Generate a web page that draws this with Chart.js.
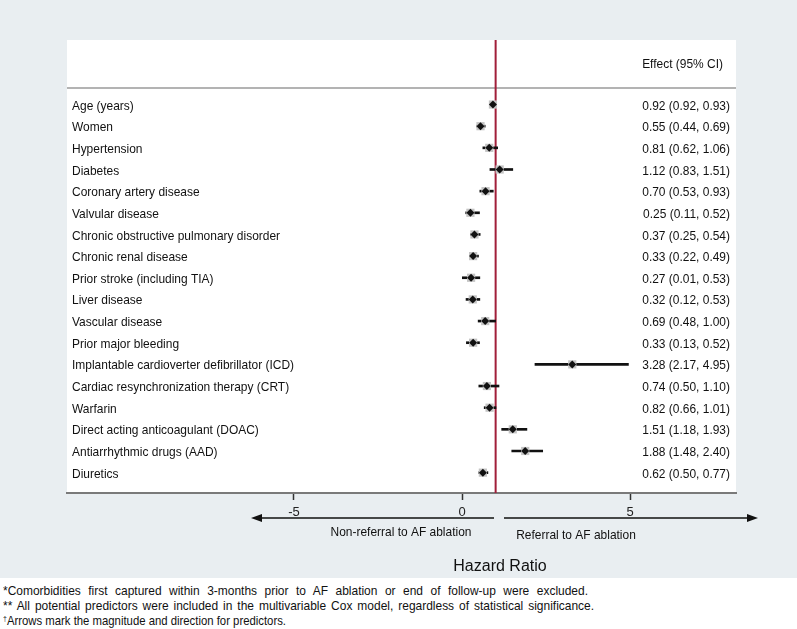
<!DOCTYPE html>
<html>
<head>
<meta charset="utf-8">
<script src="https://cdn.jsdelivr.net/npm/chart.js@4/dist/chart.umd.min.js"></script>
<style>
  html, body { margin: 0; padding: 0; background: #fff; }
  #wrap { position: relative; width: 797px; height: 629px; overflow: hidden; }
  #plot { position: absolute; left: 0; top: 0; background: #e9eef1; }
  .note {
    position: absolute; left: 3px;
    font: 13px "Liberation Sans", Arial, sans-serif;
    color: #111; white-space: nowrap; line-height: 14px;
    transform-origin: 0 50%;
  }
  .note sup { font-size: 8px; vertical-align: 4px; line-height: 0; }
</style>
</head>
<body>
<div id="wrap">
  <canvas id="plot" width="797" height="578"></canvas>
  <div class="note" data-w="585" style="top:584px">*Comorbidities first captured within 3-months prior to AF ablation or end of follow-up were excluded.</div>
  <div class="note" data-w="591" style="top:599px">** All potential predictors were included in the multivariable Cox model, regardless of statistical significance.</div>
  <div class="note" data-w="283" style="top:614px"><sup>&dagger;</sup>Arrows mark the magnitude and direction for predictors.</div>
</div>

<script>
/* ---- data ---- */
const predictors = [
  "Age (years)", "Women", "Hypertension", "Diabetes", "Coronary artery disease",
  "Valvular disease", "Chronic obstructive pulmonary disorder", "Chronic renal disease",
  "Prior stroke (including TIA)", "Liver disease", "Vascular disease", "Prior major bleeding",
  "Implantable cardioverter defibrillator (ICD)", "Cardiac resynchronization therapy (CRT)",
  "Warfarin", "Direct acting anticoagulant (DOAC)", "Antiarrhythmic drugs (AAD)", "Diuretics"
];
const hazardRatio = [0.92, 0.55, 0.81, 1.12, 0.70, 0.25, 0.37, 0.33, 0.27, 0.32, 0.69, 0.33, 3.28, 0.74, 0.82, 1.51, 1.88, 0.62];
const ciLow       = [0.92, 0.44, 0.62, 0.83, 0.53, 0.11, 0.25, 0.22, 0.01, 0.12, 0.48, 0.13, 2.17, 0.50, 0.66, 1.18, 1.48, 0.50];
const ciHigh      = [0.93, 0.69, 1.06, 1.51, 0.93, 0.52, 0.54, 0.49, 0.53, 0.53, 1.00, 0.52, 4.95, 1.10, 1.01, 1.93, 2.40, 0.77];
const xTicks = [-5, 0, 5];
const refValue = 1;

/* ---- layout constants ---- */
const X_MIN = -11.75, X_MAX = 8.15;
const Y_MIN = -2.98, Y_MAX = 17.94;
const FONT = '"Liberation Sans", Arial, sans-serif';
const RED = "#a11f3a";
const SQUEEZE = 0.92;   // the original type is a bit condensed

const fmt = (v) => v.toFixed(2);

function text(ctx, str, x, y, align) {
  ctx.save();
  ctx.translate(x, y);
  ctx.scale(SQUEEZE, 1);
  ctx.textAlign = align;
  ctx.fillText(str, 0, 0);
  ctx.restore();
}

function arrow(ctx, x1, x2, y) {
  const dir = Math.sign(x2 - x1);
  ctx.beginPath();
  ctx.moveTo(x1, y);
  ctx.lineTo(x2 - dir * 8, y);
  ctx.stroke();
  ctx.beginPath();
  ctx.moveTo(x2, y);
  ctx.lineTo(x2 - dir * 11, y - 4);
  ctx.lineTo(x2 - dir * 11, y + 4);
  ctx.closePath();
  ctx.fill();
}

const forestDecor = {
  id: "forestDecor",
  beforeDraw(chart) {
    const { ctx, chartArea: a } = chart;
    ctx.save();
    ctx.fillStyle = "#fff";
    ctx.fillRect(a.left, a.top, a.right - a.left, a.bottom - a.top);
    // header rule
    ctx.strokeStyle = "#9a9a9a";
    ctx.lineWidth = 1.5;
    ctx.beginPath();
    ctx.moveTo(a.left, 88);
    ctx.lineTo(a.right, 88);
    ctx.stroke();
    ctx.restore();
  },
  afterDraw(chart) {
    const { ctx, scales } = chart;
    const y = scales.y;
    ctx.save();
    ctx.fillStyle = "#111";
    ctx.font = "13px " + FONT;
    ctx.textBaseline = "middle";

    text(ctx, "Effect (95% CI)", 723, 64, "right");

    predictors.forEach((name, i) => {
      const py = y.getPixelForValue(i) + 1.5;
      text(ctx, name, 72, py, "left");
      text(ctx, `${fmt(hazardRatio[i])} (${fmt(ciLow[i])}, ${fmt(ciHigh[i])})`, 730, py, "right");
    });

    // direction arrows
    ctx.strokeStyle = "#111";
    ctx.lineWidth = 1.5;
    arrow(ctx, 494, 251, 518);
    arrow(ctx, 504, 758, 518);

    text(ctx, "Non-referral to AF ablation", 401, 532, "center");
    text(ctx, "Referral to AF ablation", 576, 535, "center");

    ctx.font = "16px " + FONT;
    ctx.textAlign = "center";
    ctx.fillText("Hazard Ratio", 500, 567);
    ctx.restore();
  }
};

const rows = predictors.map((_, i) => i);

new Chart(document.getElementById("plot"), {
  data: {
    datasets: [
      {
        type: "line",
        data: [{ x: refValue, y: Y_MIN }, { x: refValue, y: Y_MAX }],
        borderColor: RED,
        borderWidth: 2,
        pointRadius: 0,
        order: 4,
      },
      {
        type: "bar",
        indexAxis: "y",
        data: rows.map((i) => ({ x: [ciLow[i], ciHigh[i]], y: i })),
        backgroundColor: "#111",
        barThickness: 2,
        borderWidth: 0,
        order: 3,
      },
      {
        type: "scatter",
        data: rows.map((i) => ({ x: hazardRatio[i], y: i })),
        pointStyle: "rect",
        pointRadius: 5.8,
        backgroundColor: "#c4c4c4",
        borderWidth: 0,
        order: 2,
      },
      {
        type: "scatter",
        data: rows.map((i) => ({ x: hazardRatio[i], y: i })),
        pointStyle: "rectRot",
        pointRadius: 4,
        backgroundColor: "#111",
        borderWidth: 0,
        order: 1,
      },
    ],
  },
  options: {
    responsive: false,
    animation: false,
    events: [],
    layout: { padding: { top: 40, left: 67, right: 61, bottom: 0 } },
    plugins: { legend: { display: false }, tooltip: { enabled: false } },
    scales: {
      x: {
        type: "linear",
        position: "bottom",
        min: X_MIN,
        max: X_MAX,
        afterBuildTicks: (s) => { s.ticks = xTicks.map((v) => ({ value: v })); },
        afterFit: (s) => { s.height = 85; },
        grid: { drawOnChartArea: false, drawTicks: true, tickLength: 7, tickColor: "#333", tickWidth: 1.5 },
        border: { display: true, color: "#7a7a7a", width: 2 },
        ticks: { color: "#222", font: { size: 13, family: FONT }, padding: 5, maxRotation: 0 },
      },
      y: {
        type: "linear",
        display: false,
        reverse: true,
        min: Y_MIN,
        max: Y_MAX,
        offset: false,
        grid: { offset: false },
      },
    },
  },
  plugins: [forestDecor],
});

/* ---- fit footnote lines to the original widths ---- */
document.querySelectorAll(".note").forEach((el) => {
  const target = parseFloat(el.dataset.w);
  const spaces = (el.textContent.match(/ /g) || []).length;
  const natural = el.getBoundingClientRect().width;
  let s = SQUEEZE;
  const extra = (target / s - natural) / spaces;
  if (extra >= 0) {
    el.style.wordSpacing = extra.toFixed(2) + "px";
  } else {
    s = target / natural;
  }
  el.style.transform = `scaleX(${s.toFixed(3)})`;
});
</script>
</body>
</html>
